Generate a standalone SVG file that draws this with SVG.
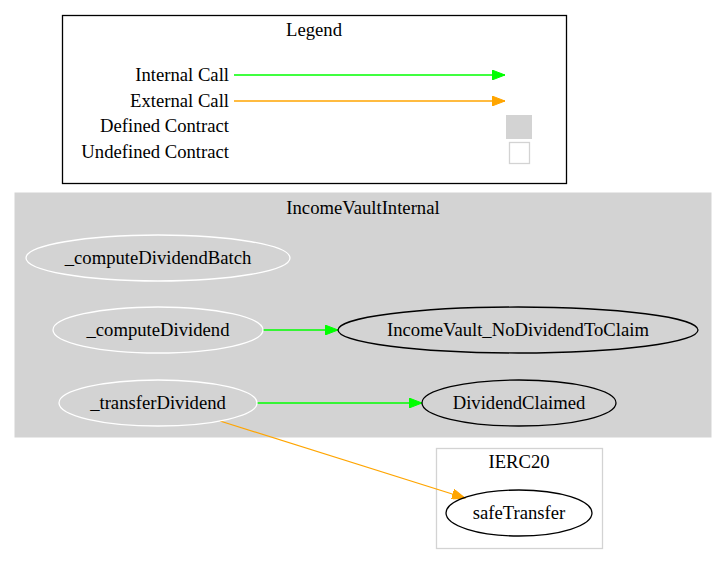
<svg xmlns="http://www.w3.org/2000/svg" width="727" height="564" viewBox="0 0 727 564">
<style>
text{font-family:"Liberation Serif","Times New Roman",serif;font-size:18.67px;fill:#000}
.m{text-anchor:middle}
.e{text-anchor:end}
.int{stroke:#00ff00;stroke-width:1.3;fill:none}
.ext{stroke:#ffa500;stroke-width:1.3;fill:none}
.def{fill:none;stroke:#ffffff;stroke-width:1.3}
.und{fill:none;stroke:#000000;stroke-width:1.3}
</style>
<defs>
<marker id="ag" markerWidth="14" markerHeight="10" refX="13" refY="5" orient="auto" markerUnits="userSpaceOnUse"><path d="M0,0 L13,5 L0,10 Z" fill="#00ff00" stroke="#00ff00"/></marker>
<marker id="ao" markerWidth="14" markerHeight="10" refX="13" refY="5" orient="auto" markerUnits="userSpaceOnUse"><path d="M0,0 L13,5 L0,10 Z" fill="#ffa500" stroke="#ffa500"/></marker>
</defs>
<rect width="727" height="564" fill="#ffffff"/>
<g id="legend">
<rect x="62.5" y="15.5" width="504" height="168" fill="#ffffff" stroke="#000000" stroke-width="1.3"/>
<text class="m" x="314" y="36">Legend</text>
<text class="e" x="229" y="81">Internal Call</text>
<text class="e" x="229" y="107">External Call</text>
<text class="e" x="229" y="132">Defined Contract</text>
<text class="e" x="229" y="158">Undefined Contract</text>
<line class="int" x1="234" y1="75" x2="505" y2="75" marker-end="url(#ag)"/>
<line class="ext" x1="234" y1="101" x2="505" y2="101" marker-end="url(#ao)"/>
<rect x="506" y="115" width="26" height="24" fill="#d3d3d3"/>
<rect x="509.5" y="142.5" width="20" height="21" fill="#ffffff" stroke="#d3d3d3" stroke-width="1.3"/>
</g>
<g id="cluster_IncomeVaultInternal">
<rect x="15" y="193" width="696" height="244" fill="#d3d3d3" stroke="#d3d3d3"/>
<text class="m" x="363" y="214">IncomeVaultInternal</text>
</g>
<g id="cluster_IERC20">
<rect x="436.5" y="448.5" width="166" height="100" fill="#ffffff" stroke="#d3d3d3" stroke-width="1.3"/>
<text class="m" x="519" y="468">IERC20</text>
</g>
<g id="connectors">
<line class="int" x1="263" y1="330" x2="338" y2="330" marker-end="url(#ag)"/>
<line class="int" x1="257" y1="403" x2="422" y2="403" marker-end="url(#ag)"/>
<line class="ext" x1="220" y1="421" x2="465" y2="498" marker-end="url(#ao)"/>
</g>
<g id="node_computeDividendBatch">
<ellipse class="def" cx="158" cy="258" rx="132" ry="23"/>
<text class="m" x="158" y="264">_computeDividendBatch</text>
</g>
<g id="node_computeDividend">
<ellipse class="def" cx="158" cy="330" rx="105" ry="23"/>
<text class="m" x="158" y="336">_computeDividend</text>
</g>
<g id="node_IncomeVault_NoDividendToClaim">
<ellipse class="und" cx="518" cy="330" rx="180" ry="23"/>
<text class="m" x="518" y="336">IncomeVault_NoDividendToClaim</text>
</g>
<g id="node_transferDividend">
<ellipse class="def" cx="158" cy="403" rx="99" ry="23"/>
<text class="m" x="158" y="409">_transferDividend</text>
</g>
<g id="node_DividendClaimed">
<ellipse class="und" cx="519" cy="403" rx="97" ry="23"/>
<text class="m" x="519" y="409">DividendClaimed</text>
</g>
<g id="node_safeTransfer">
<ellipse class="und" cx="519" cy="513" rx="73" ry="23"/>
<text class="m" x="519" y="519">safeTransfer</text>
</g>
</svg>
